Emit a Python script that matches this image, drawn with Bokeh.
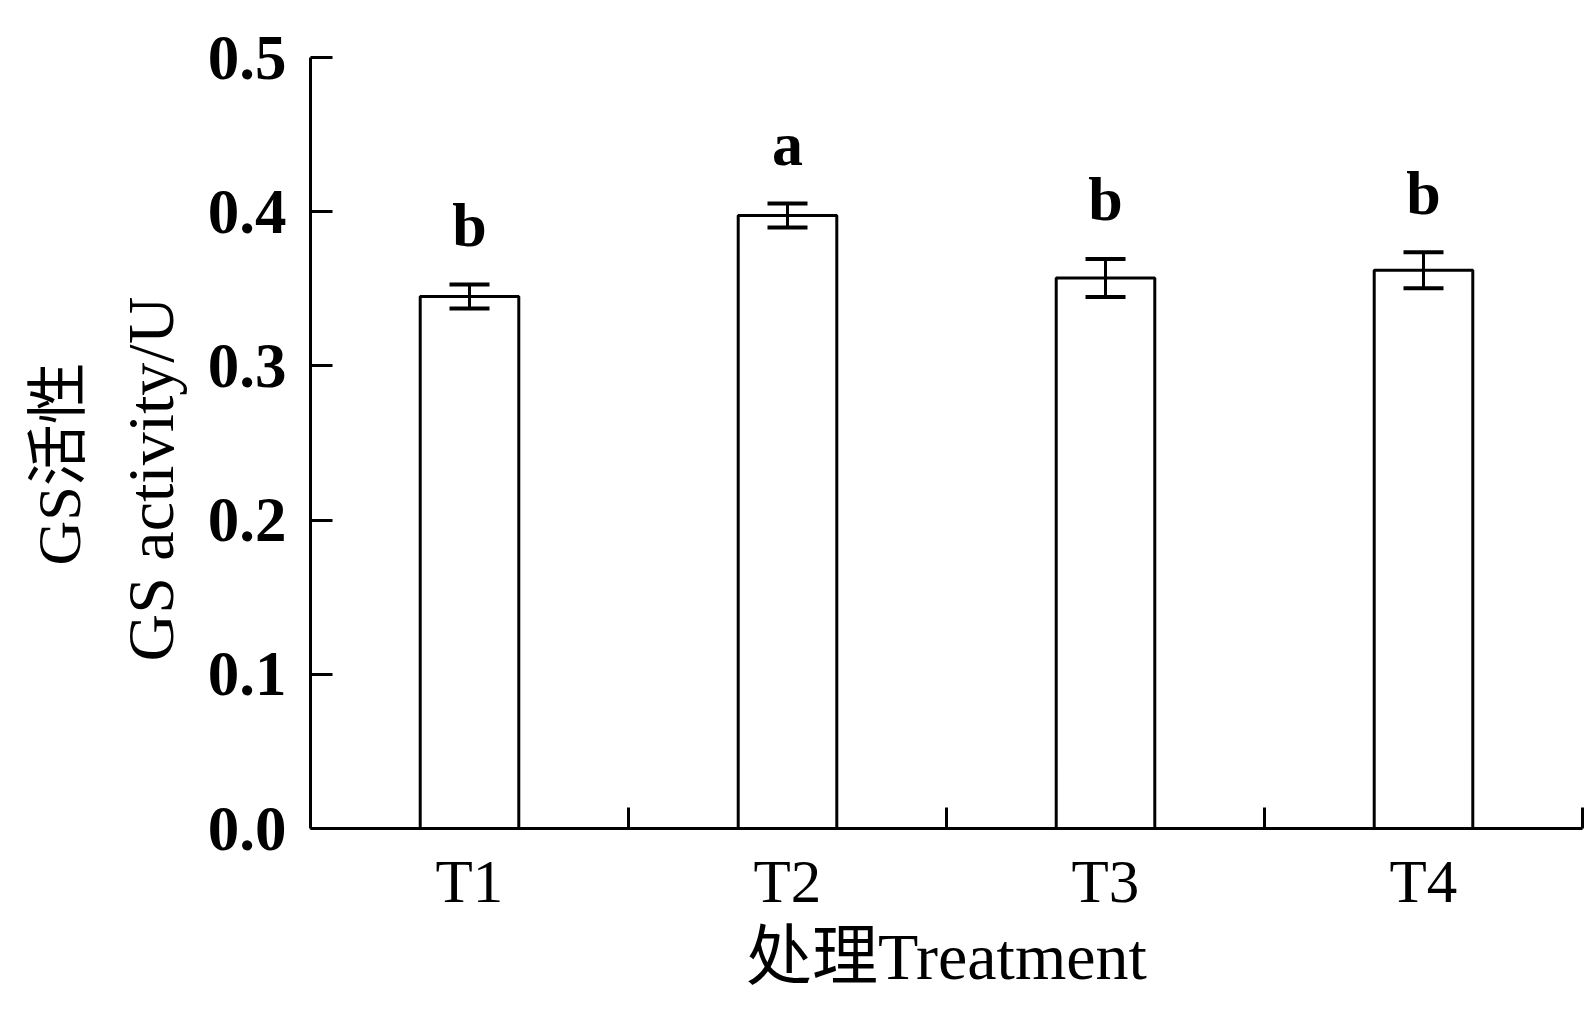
from bokeh.plotting import figure
from bokeh.models import (ColumnDataSource, Whisker, FixedTicker, Range1d, Title,
                          LabelSet, TeeHead, PrintfTickFormatter)
from bokeh.embed import file_html
from bokeh.resources import INLINE

# ---- data ----
treatments = ["T1", "T2", "T3", "T4"]
gs_activity = [0.345, 0.3975, 0.357, 0.362]
gs_error = [0.0078, 0.0078, 0.0123, 0.0117]
letters = ["b", "a", "b", "b"]
y_ticks = [0.0, 0.1, 0.2, 0.3, 0.4, 0.5]

SERIF = "Liberation Serif, Noto Sans CJK SC"
LETTER_GAP = 0.025

xpos = [i + 0.5 for i in range(len(treatments))]
src = ColumnDataSource(dict(
    x=xpos,
    top=gs_activity,
    upper=[m + e for m, e in zip(gs_activity, gs_error)],
    lower=[m - e for m, e in zip(gs_activity, gs_error)],
    label_y=[m + e + LETTER_GAP for m, e in zip(gs_activity, gs_error)],
    letter=letters,
))

p = figure(width=1590, height=1005,
           x_range=Range1d(0, len(treatments)), y_range=Range1d(0, 0.5),
           output_backend="svg", toolbar_location=None,
           min_border_left=310, min_border_right=8,
           min_border_top=57, min_border_bottom=177,
           background_fill_color="white", border_fill_color="white",
           outline_line_color=None)
p.grid.visible = False

p.vbar(x="x", top="top", width=0.31, source=src,
       fill_color="white", line_color="black", line_width=3)

p.add_layout(Whisker(base="x", upper="upper", lower="lower", source=src,
                     level="annotation",
                     line_color="black", line_width=3,
                     upper_head=TeeHead(size=40, line_width=4, line_color="black"),
                     lower_head=TeeHead(size=40, line_width=4, line_color="black")))

p.add_layout(LabelSet(x="x", y="label_y", text="letter", source=src,
                      text_align="center", text_baseline="alphabetic",
                      text_font=SERIF, text_font_size="62px",
                      text_font_style="bold", text_color="black"))

# x axis
xa = p.xaxis[0]
xa.ticker = FixedTicker(ticks=xpos, minor_ticks=list(range(1, len(treatments) + 1)))
xa.major_label_overrides = {x: t for x, t in zip(xpos, treatments)}
xa.major_tick_line_color = None
xa.minor_tick_in = 21
xa.minor_tick_out = 0
xa.minor_tick_line_width = 3
xa.minor_tick_line_color = "black"
xa.axis_line_width = 3
xa.axis_line_color = "black"
xa.major_label_standoff = 13
xa.major_label_text_font = SERIF
xa.major_label_text_font_size = "61px"
xa.major_label_text_color = "black"
xa.axis_label = "处理Treatment"
xa.axis_label_text_font = SERIF
xa.axis_label_text_font_size = "66px"
xa.axis_label_text_font_style = "normal"
xa.axis_label_text_color = "black"
xa.axis_label_standoff = 2

# y axis
ya = p.yaxis[0]
ya.ticker = FixedTicker(ticks=y_ticks, minor_ticks=[])
ya.formatter = PrintfTickFormatter(format="%.1f")
ya.major_tick_in = 22
ya.major_tick_out = 0
ya.major_tick_line_width = 3
ya.major_tick_line_color = "black"
ya.minor_tick_line_color = None
ya.axis_line_width = 3
ya.axis_line_color = "black"
ya.major_label_standoff = 24
ya.major_label_text_font = SERIF
ya.major_label_text_font_size = "63px"
ya.major_label_text_font_style = "bold"
ya.major_label_text_color = "black"

p.add_layout(Title(text="GS activity/U", align="left", offset=167, text_font=SERIF,
                   text_font_size="66px", text_font_style="normal",
                   text_color="black", standoff=35), "left")
p.add_layout(Title(text="GS活性", align="left", offset=263, text_font=SERIF,
                   text_font_size="62px", text_font_style="normal",
                   text_color="black", standoff=3), "left")

open("out.html", "w").write(file_html(p, INLINE))
